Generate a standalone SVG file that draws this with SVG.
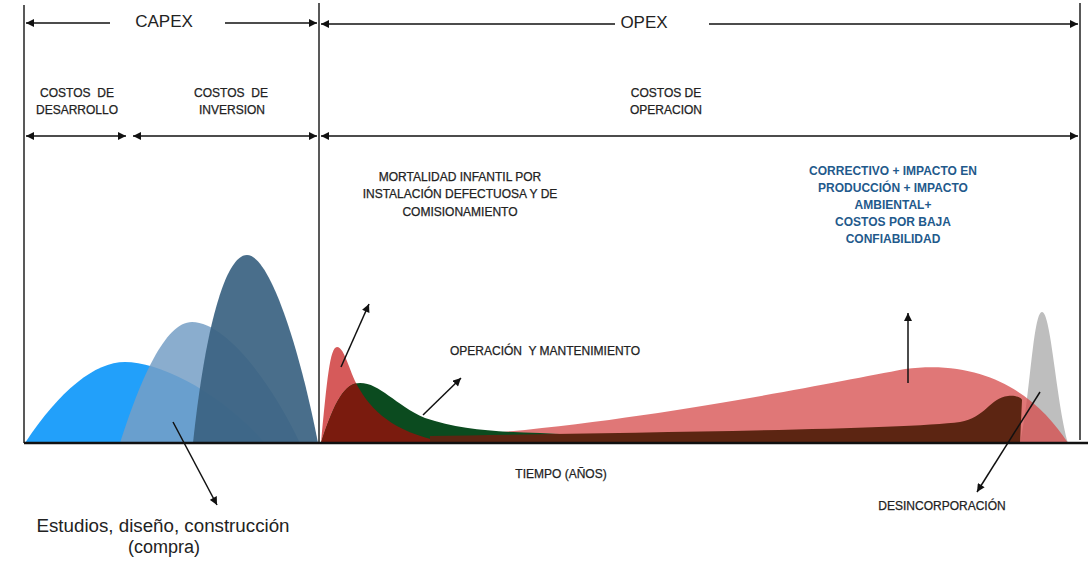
<svg xmlns="http://www.w3.org/2000/svg" width="1091" height="561" viewBox="0 0 1091 561">
<style>
.t{font-family:"Liberation Sans",Arial,sans-serif;font-size:12px;fill:#222;stroke:#222;stroke-width:0.25;text-anchor:middle}
.b{font-family:"Liberation Sans",Arial,sans-serif;font-size:12px;font-weight:bold;fill:#1F5A8C;text-anchor:middle}
.big{font-family:"Liberation Sans",Arial,sans-serif;font-size:17px;fill:#222;text-anchor:middle}
.ax{stroke:#222;stroke-width:1.5;fill:none}
.ar{stroke:#111;stroke-width:1.5;fill:none;marker-end:url(#ah)}
.dbl{stroke:#111;stroke-width:1.5;fill:none;marker-start:url(#ah);marker-end:url(#ah)}
</style>
<defs>
<marker id="ah" viewBox="0 0 10 10" refX="10" refY="5" markerWidth="9" markerHeight="8" markerUnits="userSpaceOnUse" orient="auto-start-reverse">
<path d="M0,0 L10,5 L0,10 z" fill="#111"/>
</marker>
<clipPath id="greenClip">
<path d="M321,443 C335,400 345,383 360,383 C380,383 395,405 425,418 C460,430 500,432 540,433 L560,434 L560,443 Z"/>
</clipPath>
</defs>
<rect width="1091" height="561" fill="#fff"/>

<g id="capex-curves">
<path d="M25,443 C60,390 95,362 125,362 C160,362 220,392 265,443 Z" fill="#22A0FA"/>
<path d="M120,443 C140,380 165,322 192,322 C225,322 270,380 300,443 Z" fill="#769FC5" fill-opacity="0.85"/>
<path d="M193,443 C205,330 225,255 247,255 C270,255 300,350 318,443 Z" fill="#3B6382" fill-opacity="0.93"/>
</g>

<g id="opex-curves">
<path d="M1020,443 C1030,400 1033,312 1042,312 C1051,312 1056,400 1068,443 Z" fill="#BEBEBE"/>
<path d="M480,443 L480,434 C650,420 820,385 905,369 C990,358 1040,400 1068,443 Z" fill="#D54A4A" fill-opacity="0.75"/>
<path d="M321,443 C327,380 330,347 337,347 C345,347 350,375 360,390 C375,415 400,435 450,443 Z" fill="#D65A5A"/>
<path d="M321,443 C335,400 345,383 360,383 C380,383 395,405 425,418 C460,430 500,432 540,433 L560,434 L560,443 Z" fill="#0B4B1F"/>
<path d="M321,443 C327,380 330,347 337,347 C345,347 350,375 360,390 C375,415 400,435 450,443 Z" fill="#7A1B0E" clip-path="url(#greenClip)"/>
<path d="M430,443 L430,436 C600,433 900,430 960,422 C985,418 990,398 1008,396 C1016,395 1022,398 1022,400 L1020,443 Z" fill="#5C2512"/>
</g>

<g id="axes">
<line class="ax" x1="24" y1="5" x2="24" y2="443"/>
<line class="ax" x1="319" y1="3" x2="319" y2="443"/>
<line class="ax" x1="1080" y1="3" x2="1080" y2="440"/>
<line x1="24" y1="443" x2="1088" y2="443" stroke="#111" stroke-width="2.5"/>
</g>

<g id="connectors">
<line class="ar" x1="110" y1="23" x2="26" y2="23"/>
<line class="ar" x1="225" y1="23" x2="317" y2="23"/>
<line class="ar" x1="615" y1="24" x2="321" y2="24"/>
<line class="ar" x1="709" y1="24" x2="1078" y2="24"/>
<line class="dbl" x1="26" y1="136" x2="126" y2="136"/>
<line class="dbl" x1="133" y1="136" x2="317" y2="136"/>
<line class="dbl" x1="321" y1="136" x2="1078" y2="136"/>
<line class="ar" x1="173" y1="422" x2="217" y2="505"/>
<line class="ar" x1="341" y1="367" x2="369" y2="304"/>
<line class="ar" x1="423" y1="415" x2="461" y2="378"/>
<line class="ar" x1="908" y1="383" x2="908" y2="313"/>
<line class="ar" x1="1040" y1="392" x2="977" y2="492"/>
</g>

<g id="label-capex"><text class="big" x="164" y="27">CAPEX</text></g>
<g id="label-opex"><text class="big" x="644" y="28">OPEX</text></g>
<g id="label-desarrollo">
<text class="t" x="77" y="97" style="white-space:pre">COSTOS  DE</text>
<text class="t" x="77" y="114">DESARROLLO</text>
</g>
<g id="label-inversion">
<text class="t" x="231" y="97" style="white-space:pre">COSTOS  DE</text>
<text class="t" x="232" y="114">INVERSION</text>
</g>
<g id="label-operacion">
<text class="t" x="666" y="97">COSTOS DE</text>
<text class="t" x="666" y="114">OPERACION</text>
</g>
<g id="label-mortalidad">
<text class="t" x="460" y="181">MORTALIDAD INFANTIL POR</text>
<text class="t" x="460" y="198">INSTALACIÓN DEFECTUOSA Y DE</text>
<text class="t" x="460" y="216">COMISIONAMIENTO</text>
</g>
<g id="label-om"><text class="t" x="545" y="355" style="white-space:pre">OPERACIÓN  Y MANTENIMIENTO</text></g>
<g id="label-correctivo">
<text class="b" x="893" y="175">CORRECTIVO + IMPACTO EN</text>
<text class="b" x="893" y="192">PRODUCCIÓN + IMPACTO</text>
<text class="b" x="893" y="209">AMBIENTAL+</text>
<text class="b" x="893" y="226">COSTOS POR BAJA</text>
<text class="b" x="893" y="243">CONFIABILIDAD</text>
</g>
<g id="label-tiempo"><text class="t" x="561" y="478">TIEMPO (AÑOS)</text></g>
<g id="label-desincorporacion"><text class="t" x="942" y="510">DESINCORPORACIÓN</text></g>
<g id="label-estudios">
<text class="big" x="163" y="532" style="font-size:18px" textLength="253" lengthAdjust="spacingAndGlyphs">Estudios, diseño, construcción</text>
<text class="big" x="164" y="553" style="font-size:18px">(compra)</text>
</g>
</svg>
